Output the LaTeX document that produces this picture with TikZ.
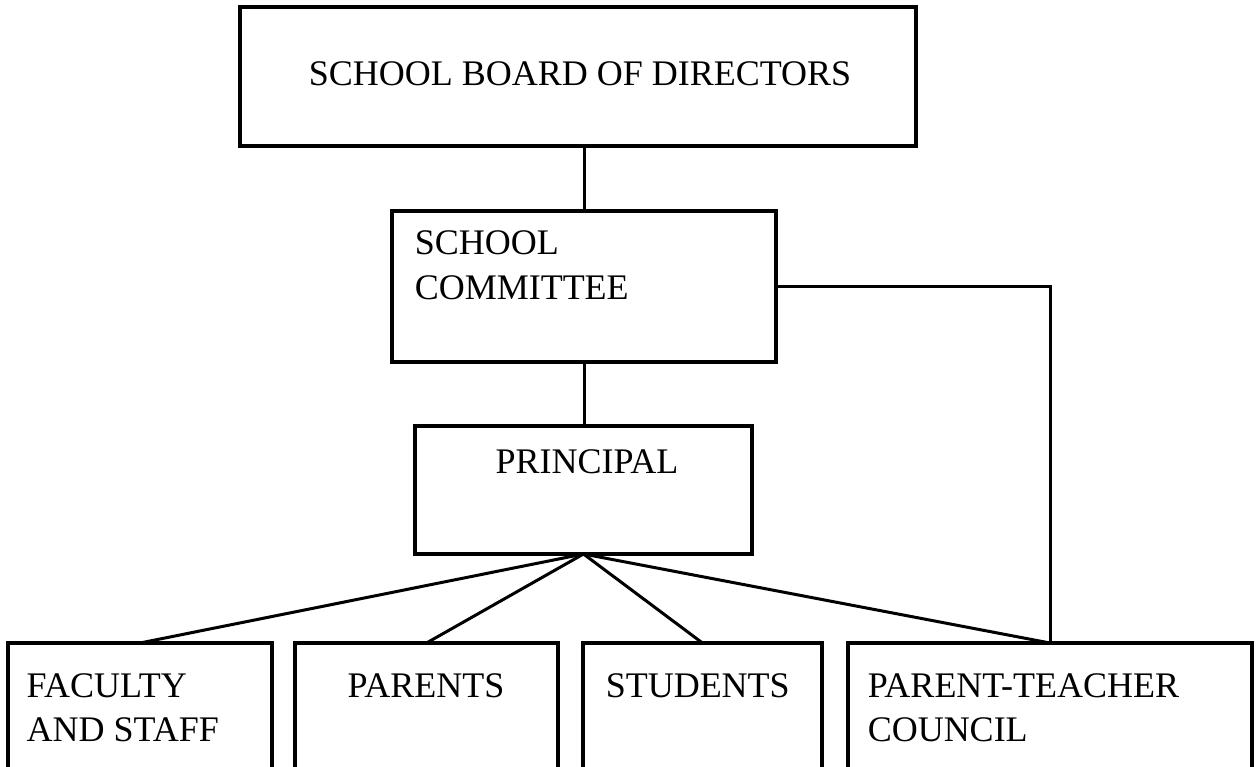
\documentclass[tikz,border=0pt]{standalone}
\usepackage{fontspec}
\setmainfont{Liberation Serif}
\begin{document}
\begin{tikzpicture}[x=1pt,y=-1pt,line width=3.5pt,
  box/.style={draw,rectangle,inner sep=0pt,outer sep=0pt,line width=3.5pt},
  lbl/.style={inner sep=0pt,font=\fontsize{36}{43}\selectfont},
  link/.style={draw,line width=3pt}]
\useasboundingbox (0,0) rectangle (1256,766);
\clip (0,0) rectangle (1256,766);
% boxes
\node[box,minimum width=676pt,minimum height=139pt] (board) at (578,76.5) {};
\node[box,minimum width=384pt,minimum height=151pt] (comm) at (584,286.5) {};
\node[box,minimum width=337pt,minimum height=128pt] (prin) at (583.5,490) {};
\node[box,minimum width=264pt,minimum height=160pt] (fac) at (140,723) {};
\node[box,minimum width=263pt,minimum height=160pt] (par) at (426.5,723) {};
\node[box,minimum width=239pt,minimum height=160pt] (stu) at (702.5,723) {};
\node[box,minimum width=404pt,minimum height=160pt] (ptc) at (1050,723) {};
% texts
\node[lbl,anchor=base] (tboard) at (580,85) {SCHOOL BOARD OF DIRECTORS};
\node[lbl,anchor=base west] (tcommA) at (413,254) {SCHOOL};
\node[lbl,anchor=base west] (tcommB) at (413,299) {COMMITTEE};
\node[lbl,anchor=base] (tprin) at (587,473) {PRINCIPAL};
\node[lbl,anchor=base west] (tfacA) at (25,697) {FACULTY};
\node[lbl,anchor=base west] (tfacB) at (25,741) {AND STAFF};
\node[lbl,anchor=base] (tpar) at (426,697) {PARENTS};
\node[lbl,anchor=base west] (tstu) at (604,697) {STUDENTS};
\node[lbl,anchor=base west] (tptcA) at (866,697) {PARENT-TEACHER};
\node[lbl,anchor=base west] (tptcB) at (866,741) {COUNCIL};
% connectors
\draw[link] (comm.north) -- (comm.north |- board.south);
\draw[link] (comm.south) -- (comm.south |- prin.north);
\draw[link] (comm.east) -| (ptc.north);
\draw[link] (prin.south) -- (fac.north);
\draw[link] (prin.south) -- (par.north);
\draw[link] (prin.south) -- (stu.north);
\draw[link] (prin.south) -- (ptc.north);
\end{tikzpicture}
\end{document}
